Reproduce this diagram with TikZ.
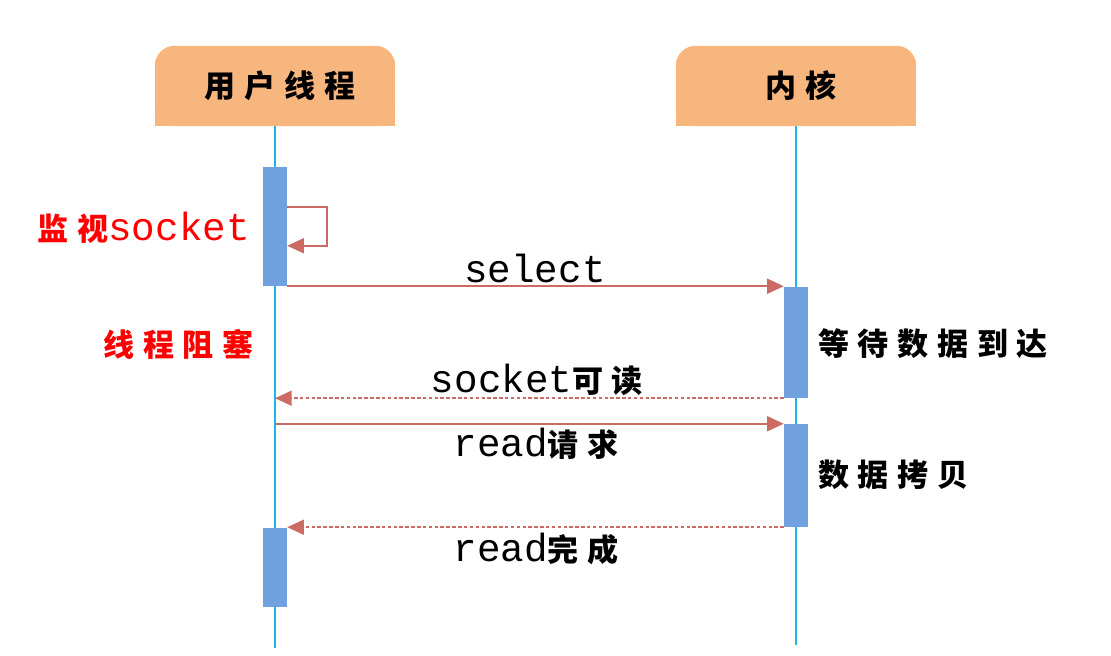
\documentclass[tikz,border=0pt]{standalone}
\usepackage{fontspec}
\setmonofont{Liberation Mono}
\newfontfamily\cjk[LetterSpace=28]{Noto Sans CJK SC}
\usetikzlibrary{arrows.meta,backgrounds}
\definecolor{headfill}{RGB}{248,182,127}
\definecolor{lifeblue}{RGB}{32,178,234}
\definecolor{actblue}{RGB}{112,160,221}
\definecolor{msgred}{RGB}{204,106,100}
\definecolor{notered}{RGB}{255,0,0}
\newcommand{\zh}[1]{{\cjk\bfseries\fontsize{26.5}{30}\selectfont #1}}
\begin{document}
\begin{tikzpicture}[x=0.03cm, y=-0.03cm,
  head node/.style={minimum width=7.2cm, minimum height=2.4cm, inner sep=0pt},
  act node/.style={fill=actblue, minimum width=0.72cm, inner sep=0pt},
  life/.style={lifeblue, line width=1.5pt},
  msg/.style={msgred, line width=1.5pt, -{Triangle[length=0.5cm,width=0.45cm]}},
  reply/.style={msg, dash pattern=on 3pt off 2pt},
  label node/.style={font=\ttfamily\fontsize{33.5}{36}\selectfont, inner sep=0pt}]
\useasboundingbox (0,0) rectangle (1111,656);
\node [head node] (user) at (280,86) {\zh{用户线程}};
\node [head node] (kernel) at (801,86) {\zh{内核}};
\begin{scope}[on background layer]
\fill [headfill, rounded corners=0.6cm] ([xshift=-0.15cm]user.south west) rectangle ([xshift=-0.15cm]user.north east);
\fill [headfill] ([xshift=-0.15cm]user.south west) rectangle ([xshift=-0.15cm]user.east);
\fill [headfill, rounded corners=0.6cm] ([xshift=-0.15cm]kernel.south west) rectangle ([xshift=-0.15cm]kernel.north east);
\fill [headfill] ([xshift=-0.15cm]kernel.south west) rectangle ([xshift=-0.15cm]kernel.east);
\end{scope}
% lifelines
\coordinate (user top) at (275,126);
\coordinate (kernel top) at (796,126);
\coordinate (user end) at (275,648);
\coordinate (kernel end) at (796,645);
\draw [life] (user top) -- (user end);
\draw [life] (kernel top) -- (kernel end);
% activations
\node [act node, minimum height=3.57cm] (a1) at (275,226.5) {};
\node [act node, minimum height=3.33cm] (k1) at (796,342.5) {};
\node [act node, minimum height=3.09cm] (k2) at (796,475.5) {};
\node [act node, minimum height=2.37cm] (a2) at (275,567.5) {};
% messages
\draw [msg] ([yshift=-1.2cm]a1.north east) -- ++(40,0) |- ([yshift=-2.37cm]a1.north east);
\path
	(a1.south east) edge [msg] (a1.south east -| k1.west)
	(k1.south west) edge [reply] (k1.south west -| user top)
	(k2.north west -| user top) edge [msg] (k2.north west)
	(k2.south west) edge [reply] (k2.south west -| a2.east)
	;
\begin{scope}[every node/.style={label node}]
\node (select) at (535,268) {select};
\node (readable) at (537,380) {socket\zh{可读}};
\node (request) at (536,444) {read\zh{请求}};
\node (done) at (536,549) {read\zh{完成}};
\node [anchor=east, text=notered] (watch) at (250,228) {\zh{监视}socket};
\node [anchor=east, text=notered] (block) at (254,344) {\zh{线程阻塞}};
\node [anchor=west] (wait) at (818,344) {\zh{等待数据到达}};
\node [anchor=west] (copy) at (818,475) {\zh{数据拷贝}};
\end{scope}
\end{tikzpicture}
\end{document}
